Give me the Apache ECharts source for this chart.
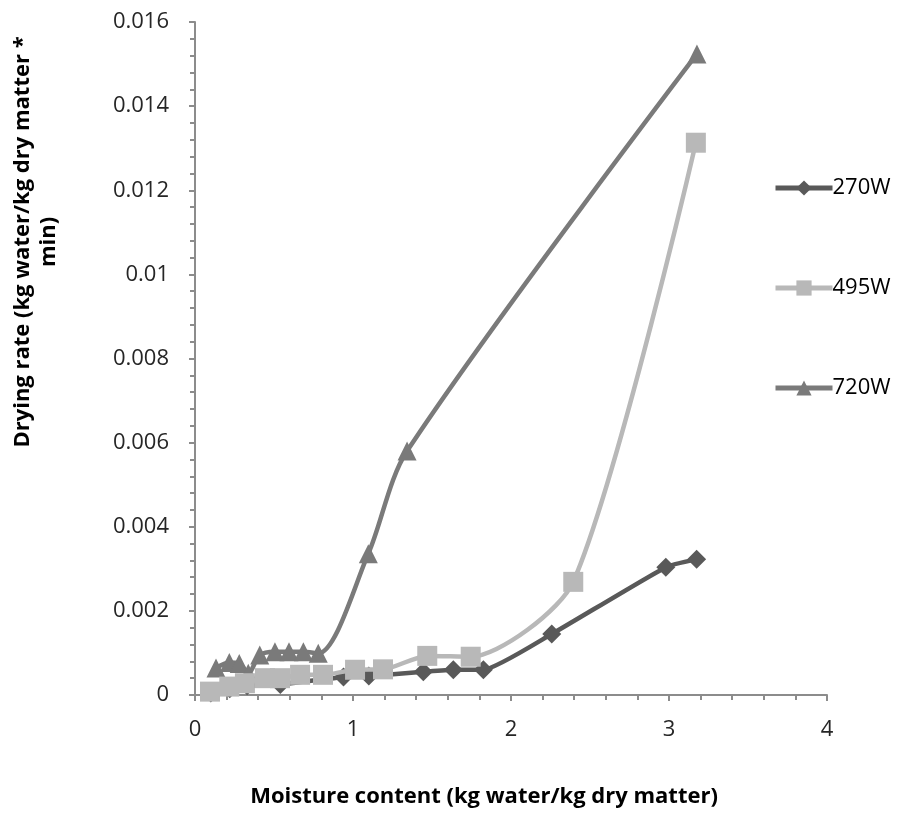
<!DOCTYPE html>
<html>
<head>
<meta charset="utf-8">
<script src="https://cdn.jsdelivr.net/npm/echarts@6/dist/echarts.min.js"></script>
<style>
  html, body { margin: 0; padding: 0; background: #fff; }
  #chart { width: 897px; height: 814px; }
</style>
</head>
<body>
<div id="chart"></div>
<script>
// Drying rate vs moisture content at three microwave power levels
const seriesNames = ['270W', '495W', '720W'];

const points270 = [
  [0.10, 0.00005], [0.22, 0.00015], [0.33, 0.00022], [0.54, 0.00025],
  [0.94, 0.00043], [1.10, 0.00045], [1.445, 0.00055], [1.635, 0.0006],
  [1.825, 0.0006], [2.258, 0.00145], [2.98, 0.00304], [3.175, 0.00323]
];
const points495 = [
  [0.095, 0.00008], [0.217, 0.0002], [0.316, 0.00028], [0.443, 0.0004],
  [0.538, 0.0004], [0.665, 0.00048], [0.81, 0.00048], [1.013, 0.0006],
  [1.19, 0.00061], [1.47, 0.00093], [1.745, 0.00091], [2.394, 0.00269],
  [3.17, 0.01313]
];
const points720 = [
  [0.133, 0.00064], [0.217, 0.00077], [0.28, 0.00075], [0.337, 0.00052],
  [0.41, 0.00095], [0.506, 0.00103], [0.595, 0.00103], [0.686, 0.00103],
  [0.78, 0.00099], [1.097, 0.00336], [1.342, 0.0058], [3.177, 0.01524]
];

const xTitle = 'Moisture content (kg water/kg dry matter)';
const yTitle = 'Drying rate (kg water/kg dry matter *\nmin)';

const FONT = '"Open Sans", sans-serif';
const axisGray = '#8c8c8c';

function lineSeries(name, data, color, symbol, size, smooth, z) {
  return {
    name, type: 'line', data, z,
    smooth,
    symbol, symbolSize: size,
    lineStyle: { color, width: 4.5 },
    itemStyle: { color },
    emphasis: { disabled: true }
  };
}

const chart = echarts.init(document.getElementById('chart'), null, { renderer: 'canvas' });
chart.setOption({
  animation: false,
  backgroundColor: '#fff',
  grid: { left: 195, right: 70, top: 22, bottom: 119, containLabel: false },
  xAxis: {
    type: 'value', min: 0, max: 4, interval: 1,
    axisLine: { lineStyle: { color: axisGray, width: 2 } },
    axisTick: { show: true, length: 6, lineStyle: { color: axisGray, width: 2 } },
    minorTick: { show: true, splitNumber: 5, length: 5, lineStyle: { color: axisGray, width: 2 } },
    splitLine: { show: false },
    axisLabel: { color: '#262626', fontSize: 22, fontFamily: FONT, margin: 24 }
  },
  yAxis: {
    type: 'value', min: 0, max: 0.016, interval: 0.002,
    axisLine: { show: true, lineStyle: { color: axisGray, width: 2 } },
    axisTick: { show: true, length: 6, lineStyle: { color: axisGray, width: 2 } },
    minorTick: { show: true, splitNumber: 5, length: 5, lineStyle: { color: axisGray, width: 2 } },
    splitLine: { show: false },
    axisLabel: { color: '#262626', fontSize: 22, fontFamily: FONT, margin: 26 }
  },
  legend: {
    orient: 'vertical', left: 768, top: 172, itemGap: 78,
    itemWidth: 57, itemHeight: 19,
    lineStyle: { width: 5 },
    textStyle: { color: '#000', fontSize: 22, fontFamily: FONT, padding: [0, 0, 0, -5] },
    data: seriesNames
  },
  graphic: [
    {
      type: 'text', x: 484, y: 797,
      style: { text: xTitle, textAlign: 'center', textVerticalAlign: 'middle',
               font: 'bold 22px ' + FONT, fill: '#000' }
    },
    {
      type: 'text', x: 36, y: 242, rotation: Math.PI / 2,
      style: { text: yTitle, textAlign: 'center', textVerticalAlign: 'middle',
               font: 'bold 22px ' + FONT, fill: '#000', lineHeight: 26 }
    }
  ],
  series: [
    lineSeries('720W', points720, '#7a7a7a', 'triangle', 19, 0.3, 2),
    lineSeries('270W', points270, '#595959', 'diamond', 19, 0.15, 3),
    lineSeries('495W', points495, '#b8b8b8', 'rect', 20, 0.25, 4)
  ]
});
</script>
</body>
</html>
